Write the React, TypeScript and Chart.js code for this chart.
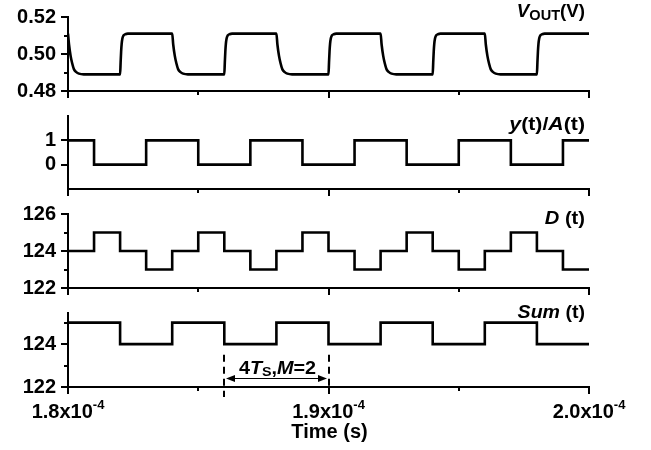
import React, { useEffect, useRef } from "react";
import { Chart, registerables } from "chart.js";

Chart.register(...registerables);

// ---------- data ----------
const US = 1e-6; // times below are in microseconds
const X_MIN_US = 180;
const X_MAX_US = 200;
const X_MAJOR_US = [180, 190, 200];
const X_MINOR_US = [185, 195];
const X_MANTISSA = ["1.8", "1.9", "2.0"];
const X_EXPONENT = "-4";
const X_TITLE = "Time (s)";

// V_OUT (V): [time µs, value]
const VOUT_POINTS: [number, number][] = [
  [180.0, 0.511], [180.04, 0.505], [180.1, 0.499], [180.16, 0.495], [180.23, 0.4917], [180.32, 0.4902], [180.42, 0.4894], [180.6, 0.489],
  [182.0, 0.489], [182.02, 0.4955], [182.04, 0.5015], [182.06, 0.5055], [182.09, 0.5085], [182.13, 0.51], [182.2, 0.5107], [182.3, 0.511],
  [184.0, 0.511], [184.04, 0.505], [184.1, 0.499], [184.16, 0.495], [184.23, 0.4917], [184.32, 0.4902], [184.42, 0.4894], [184.6, 0.489],
  [186.0, 0.489], [186.02, 0.4955], [186.04, 0.5015], [186.06, 0.5055], [186.09, 0.5085], [186.13, 0.51], [186.2, 0.5107], [186.3, 0.511],
  [188.0, 0.511], [188.04, 0.505], [188.1, 0.499], [188.16, 0.495], [188.23, 0.4917], [188.32, 0.4902], [188.42, 0.4894], [188.6, 0.489],
  [190.0, 0.489], [190.02, 0.4955], [190.04, 0.5015], [190.06, 0.5055], [190.09, 0.5085], [190.13, 0.51], [190.2, 0.5107], [190.3, 0.511],
  [192.0, 0.511], [192.04, 0.505], [192.1, 0.499], [192.16, 0.495], [192.23, 0.4917], [192.32, 0.4902], [192.42, 0.4894], [192.6, 0.489],
  [194.0, 0.489], [194.02, 0.4955], [194.04, 0.5015], [194.06, 0.5055], [194.09, 0.5085], [194.13, 0.51], [194.2, 0.5107], [194.3, 0.511],
  [196.0, 0.511], [196.04, 0.505], [196.1, 0.499], [196.16, 0.495], [196.23, 0.4917], [196.32, 0.4902], [196.42, 0.4894], [196.6, 0.489],
  [198.0, 0.489], [198.02, 0.4955], [198.04, 0.5015], [198.06, 0.5055], [198.09, 0.5085], [198.13, 0.51], [198.2, 0.5107], [198.3, 0.511],
  [200.0, 0.511],
];

// y(t)/A(t): value holds from each time to the next
const YA_TIMES = [180, 181, 183, 185, 187, 189, 191, 193, 195, 197, 199, 200];
const YA_VALUES = [1, 0, 1, 0, 1, 0, 1, 0, 1, 0, 1, 1];

// D(t)
const D_TIMES = [180, 181, 182, 183, 184, 185, 186, 187, 188, 189, 190, 191, 192, 193, 194, 195, 196, 197, 198, 199, 200];
const D_VALUES = [124, 125, 124, 123, 124, 125, 124, 123, 124, 125, 124, 123, 124, 125, 124, 123, 124, 125, 124, 123, 123];

// Sum(t)
const SUM_TIMES = [180, 182, 184, 186, 188, 190, 192, 194, 196, 198, 200];
const SUM_VALUES = [125, 124, 125, 124, 125, 124, 125, 124, 125, 124, 124];

// y-axis ticks
const VOUT_MAJOR = [0.48, 0.5, 0.52];
const VOUT_MINOR = [0.49, 0.51];
const YA_MAJOR = [0, 1];
const YA_MINOR: number[] = [];
const D_MAJOR = [122, 124, 126];
const D_MINOR = [123, 125];
const SUM_MAJOR = [122, 124];
const SUM_MINOR = [123, 125];

// annotation (4Ts, M=2)
const ANNOT_FROM_US = 186;
const ANNOT_TO_US = 190;
const ANNOT_DASH_TOP = 123.5;
const ANNOT_ARROW_LEVEL = 122.43;

// ---------- drawing helpers ----------
type Seg = { t: string; it?: boolean; sub?: boolean; sup?: boolean };
const FAMILY = '"Liberation Sans", Arial, Helvetica, sans-serif';
const fontOf = (size: number, it?: boolean) => `${it ? "italic " : ""}bold ${size}px ${FAMILY}`;

function drawRich(
  ctx: CanvasRenderingContext2D,
  segs: Seg[],
  x: number,
  y: number,
  align: "right" | "center" | "left",
  size: number,
  sx: number,
  smallRatio = 0.72
) {
  const small = Math.round(size * smallRatio);
  const ws = segs.map((s) => {
    ctx.font = fontOf(s.sub || s.sup ? small : size, s.it);
    return ctx.measureText(s.t).width;
  });
  const total = ws.reduce((a, b) => a + b, 0);
  ctx.save();
  ctx.translate(x, y);
  ctx.scale(sx, 1);
  ctx.fillStyle = "#000";
  ctx.textBaseline = "alphabetic";
  ctx.textAlign = "left";
  let cx = align === "right" ? -total : align === "center" ? -total / 2 : 0;
  segs.forEach((s, i) => {
    ctx.font = fontOf(s.sub || s.sup ? small : size, s.it);
    const dy = s.sub ? size * 0.15 : s.sup ? -size * 0.45 : 0;
    ctx.fillText(s.t, cx, dy);
    cx += ws[i];
  });
  ctx.restore();
}

interface PanelSpec {
  top: number;
  height: number;
  padTop: number;
  xHeight: number;
  yMin: number;
  yMax: number;
  yMajor: number[];
  yMinor: number[];
  yFmt: (v: number) => string;
  data: { x: number; y: number }[];
  stepped: boolean;
  label: Seg[];
  labelDy: number;
  labelSize: number;
  labelSx: number;
  bottomAxis?: boolean;
  annotate?: boolean;
}

const zip = (ts: number[], vs: number[]) => ts.map((t, i) => ({ x: t * US, y: vs[i] }));

const PANELS: PanelSpec[] = [
  {
    top: 0, height: 111, padTop: 17, xHeight: 20,
    yMin: 0.48, yMax: 0.52, yMajor: VOUT_MAJOR, yMinor: VOUT_MINOR,
    yFmt: (v) => v.toFixed(2),
    data: VOUT_POINTS.map(([t, v]) => ({ x: t * US, y: v })),
    stepped: false,
    label: [{ t: "V", it: true }, { t: "OUT", sub: true }, { t: "(V)" }],
    labelDy: 0, labelSize: 18, labelSx: 1.04,
  },
  {
    top: 100, height: 109, padTop: 16, xHeight: 20,
    yMin: -1, yMax: 2, yMajor: YA_MAJOR, yMinor: YA_MINOR,
    yFmt: (v) => String(Math.round(v)),
    data: zip(YA_TIMES, YA_VALUES),
    stepped: true,
    label: [{ t: "y", it: true }, { t: "(t)/" }, { t: "A", it: true }, { t: "(t)" }],
    labelDy: 14, labelSize: 19, labelSx: 1.12,
  },
  {
    top: 198, height: 110, padTop: 16, xHeight: 20,
    yMin: 122, yMax: 126, yMajor: D_MAJOR, yMinor: D_MINOR,
    yFmt: (v) => String(Math.round(v)),
    data: zip(D_TIMES, D_VALUES),
    stepped: true,
    label: [{ t: "D", it: true }, { t: " (t)" }],
    labelDy: 10, labelSize: 19, labelSx: 1.06,
  },
  {
    top: 296, height: 154, padTop: 17, xHeight: 63,
    yMin: 122, yMax: 125.45, yMajor: SUM_MAJOR, yMinor: SUM_MINOR,
    yFmt: (v) => String(Math.round(v)),
    data: zip(SUM_TIMES, SUM_VALUES),
    stepped: true,
    label: [{ t: "Sum", it: true }, { t: " (t)" }],
    labelDy: 5, labelSize: 19, labelSx: 1.03,
    bottomAxis: true,
    annotate: true,
  },
];

function Panel({ spec }: { spec: PanelSpec }) {
  const ref = useRef<HTMLCanvasElement>(null);

  useEffect(() => {
    const canvas = ref.current;
    if (!canvas) return;

    const decor = {
      id: "decor",
      afterDraw(chart: any) {
        const ctx: CanvasRenderingContext2D = chart.ctx;
        const { left, right, top, bottom } = chart.chartArea;
        const xs = chart.scales.x;
        const ys = chart.scales.y;
        ctx.save();
        ctx.strokeStyle = "#000";
        ctx.fillStyle = "#000";
        ctx.lineCap = "butt";
        const line = (x1: number, y1: number, x2: number, y2: number) => {
          ctx.beginPath();
          ctx.moveTo(x1, y1);
          ctx.lineTo(x2, y2);
          ctx.stroke();
        };
        ctx.lineWidth = 2;
        X_MAJOR_US.forEach((v) => {
          const px = Math.round(xs.getPixelForValue(v * US));
          line(px, bottom, px, bottom + 7);
        });
        X_MINOR_US.forEach((v) => {
          const px = Math.round(xs.getPixelForValue(v * US));
          line(px, bottom, px, bottom + 4);
        });
        spec.yMajor.forEach((v) => {
          const py = Math.round(ys.getPixelForValue(v));
          line(left - 7, py, left, py);
        });
        spec.yMinor.forEach((v) => {
          const py = Math.round(ys.getPixelForValue(v));
          line(left - 4, py, left, py);
        });

        drawRich(ctx, spec.label, right - 4, top + spec.labelDy, "right", spec.labelSize, spec.labelSx, 0.76);

        if (spec.bottomAxis) {
          X_MAJOR_US.forEach((v, i) => {
            const px = xs.getPixelForValue(v * US);
            drawRich(
              ctx,
              [{ t: X_MANTISSA[i] + "x10" }, { t: X_EXPONENT, sup: true }],
              px,
              bottom + 31,
              "center",
              20,
              1.0,
              0.65
            );
          });
          drawRich(ctx, [{ t: X_TITLE }], (left + right) / 2 + 1, bottom + 51, "center", 20, 1.0);
        }

        if (spec.annotate) {
          const xa = Math.round(xs.getPixelForValue(ANNOT_FROM_US * US));
          const xb = Math.round(xs.getPixelForValue(ANNOT_TO_US * US));
          const yTop = ys.getPixelForValue(ANNOT_DASH_TOP);
          ctx.lineWidth = 2;
          ctx.setLineDash([7, 5]);
          line(xa, yTop, xa, bottom + 10);
          line(xb, yTop, xb, bottom);
          ctx.setLineDash([]);
          const ya = Math.round(ys.getPixelForValue(ANNOT_ARROW_LEVEL)) + 0.5;
          ctx.lineWidth = 1.2;
          line(xa + 4, ya, xb - 4, ya);
          ctx.beginPath();
          ctx.moveTo(xa + 2, ya);
          ctx.lineTo(xa + 11, ya - 3.5);
          ctx.lineTo(xa + 11, ya + 3.5);
          ctx.closePath();
          ctx.fill();
          ctx.beginPath();
          ctx.moveTo(xb - 2, ya);
          ctx.lineTo(xb - 11, ya - 3.5);
          ctx.lineTo(xb - 11, ya + 3.5);
          ctx.closePath();
          ctx.fill();
          drawRich(
            ctx,
            [{ t: "4" }, { t: "T", it: true }, { t: "S", sub: true }, { t: "," }, { t: "M", it: true }, { t: "=2" }],
            (xa + xb) / 2 + 1,
            ya - 5,
            "center",
            18,
            1.1,
            0.7
          );
        }
        ctx.restore();
      },
    };

    const noGrid = { display: false, drawTicks: false, tickLength: 0 };
    const border = { display: true, color: "#000", width: 2 };

    const chart = new Chart(canvas, {
      type: "line",
      data: {
        datasets: [
          {
            data: spec.data,
            borderColor: "#000",
            borderWidth: 2.6,
            pointRadius: 0,
            fill: false,
            stepped: spec.stepped ? "before" : false,
            cubicInterpolationMode: spec.stepped ? "default" : "monotone",
            tension: 0,
            borderJoinStyle: "miter",
            borderCapStyle: "butt",
          } as any,
        ],
      },
      options: {
        animation: false,
        responsive: false,
        events: [],
        layout: { padding: { left: 0, right: 62, top: spec.padTop, bottom: 0 } },
        plugins: {
          legend: { display: false },
          tooltip: { enabled: false },
          title: { display: false },
        },
        scales: {
          x: {
            type: "linear",
            min: X_MIN_US * US,
            max: X_MAX_US * US,
            grid: noGrid,
            border,
            ticks: { display: false },
            afterFit: (s: any) => {
              s.height = spec.xHeight;
            },
          },
          y: {
            type: "linear",
            min: spec.yMin,
            max: spec.yMax,
            grid: noGrid,
            border,
            ticks: {
              display: true,
              color: "#000",
              padding: 12,
              font: { family: FAMILY, size: 20, weight: "bold", lineHeight: 0.2 },
              callback: (v: any) => spec.yFmt(Number(v)),
            },
            afterBuildTicks: (s: any) => {
              s.ticks = spec.yMajor.map((v) => ({ value: v }));
            },
            afterFit: (s: any) => {
              s.width = 68;
            },
          },
        },
      } as any,
      plugins: [decor],
    });

    return () => chart.destroy();
  }, [spec]);

  return (
    <canvas
      ref={ref}
      width={651}
      height={spec.height}
      style={{ position: "absolute", left: 0, top: spec.top, width: 651, height: spec.height, display: "block" }}
    />
  );
}

export default function App() {
  return (
    <div
      style={{
        position: "fixed",
        left: 0,
        top: 0,
        width: 651,
        height: 450,
        background: "#fff",
        overflow: "hidden",
      }}
    >
      {PANELS.map((p, i) => (
        <Panel key={i} spec={p} />
      ))}
    </div>
  );
}
